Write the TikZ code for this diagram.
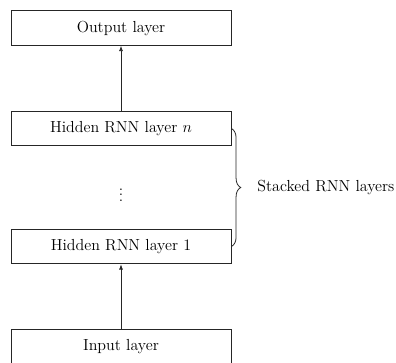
\documentclass[tikz,border=0pt]{standalone}
\usetikzlibrary{arrows.meta,decorations.pathreplacing}

\tikzset{every picture/.style={line width=0.6pt}}
\tikzset{layerbox/.style={draw=black!85,minimum width=165pt,minimum height=26pt,inner sep=0pt,font=\large}}

\begin{document}
\begin{tikzpicture}[x=0.75pt,y=0.75pt,yscale=-1,xscale=1]
\useasboundingbox (0,0) rectangle (396,362);

% Layer boxes
\node [layerbox] (output) at (121,28) {Output layer};
\node [layerbox] (hiddenn) at (121,128.5) {Hidden RNN layer $n$};
\node [font=\large] (dots) at (121,191) {$\vdots$};
\node [layerbox] (hidden1) at (121,246.5) {Hidden RNN layer 1};
\node [layerbox] (input) at (121,347) {Input layer};

% Arrows
\draw [-{Latex[length=4pt,width=3pt]},black!85] (hiddenn) -- (output);
\draw [-{Latex[length=4pt,width=3pt]},black!85] (input) -- (hidden1);

% Brace
\draw [black!85,decorate,decoration={brace,amplitude=7pt}] (hiddenn.east) -- (hidden1.east);
\node [anchor=west,inner sep=0.75pt,font=\large] (stacked) at (256,187) {Stacked RNN layers};

\end{tikzpicture}
\end{document}
